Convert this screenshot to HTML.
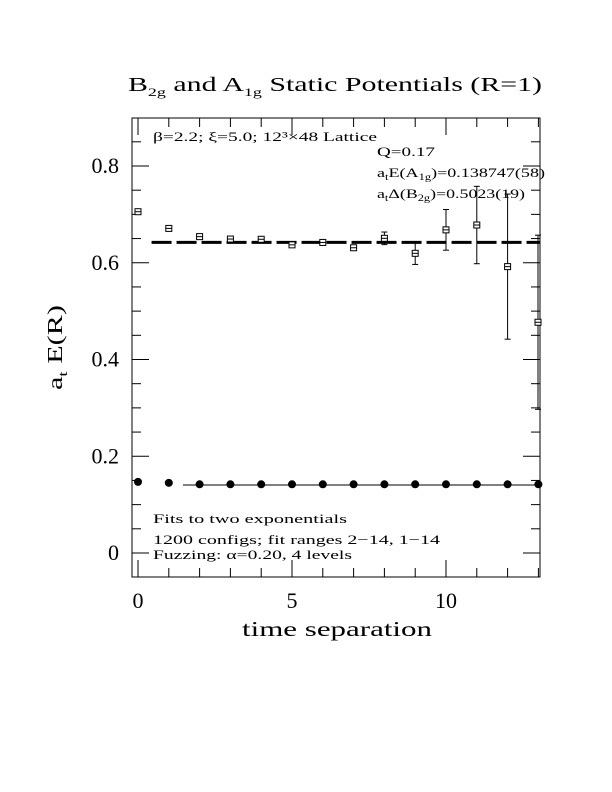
<!DOCTYPE html>
<html><head><meta charset="utf-8"><style>
body{margin:0;background:#fff;}
svg{display:block;font-family:"Liberation Serif",serif;}
</style></head><body>
<svg id="chart" width="612" height="792" viewBox="0 0 612 792">
<text x="335" y="91" font-size="20" text-anchor="middle" textLength="414" lengthAdjust="spacingAndGlyphs">B<tspan font-size="12" dy="5">2g</tspan><tspan dy="-5"> and A</tspan><tspan font-size="12" dy="5">1g</tspan><tspan dy="-5"> Static Potentials (R=1)</tspan></text>
<rect x="132" y="118" width="408" height="459" fill="none" stroke="#000" stroke-width="1"/>
<g id="ticks"></g>
<g id="marks"></g>
<text x="242" y="636" font-size="21" textLength="190" lengthAdjust="spacingAndGlyphs">time separation</text>
<text transform="translate(62,390) rotate(-90)" font-size="21" textLength="85" lengthAdjust="spacingAndGlyphs">a<tspan font-size="13" dy="5">t</tspan><tspan dy="-5"> E(R)</tspan></text>
<text x="153" y="141" font-size="13" textLength="224" lengthAdjust="spacingAndGlyphs">β=2.2; ξ=5.0; 12³×48 Lattice</text>
<text x="377" y="156" font-size="13" textLength="58" lengthAdjust="spacingAndGlyphs">Q=0.17</text>
<text x="377" y="177" font-size="13" textLength="168" lengthAdjust="spacingAndGlyphs">a<tspan font-size="9" dy="3">t</tspan><tspan dy="-3">E(A</tspan><tspan font-size="9" dy="3">1g</tspan><tspan dy="-3">)=0.138747(58)</tspan></text>
<text x="377" y="198" font-size="13" textLength="148" lengthAdjust="spacingAndGlyphs">a<tspan font-size="9" dy="3">t</tspan><tspan dy="-3">Δ(B</tspan><tspan font-size="9" dy="3">2g</tspan><tspan dy="-3">)=0.5023(19)</tspan></text>
<text x="153" y="523" font-size="13" textLength="194" lengthAdjust="spacingAndGlyphs">Fits to two exponentials</text>
<text x="153" y="544" font-size="13" textLength="287" lengthAdjust="spacingAndGlyphs">1200 configs; fit ranges 2−14, 1−14</text>
<text x="153" y="559" font-size="13" textLength="199" lengthAdjust="spacingAndGlyphs">Fuzzing: α=0.20, 4 levels</text>
</svg>
<script>
const tValues = [0,1,2,3,4,5,6,7,8,9,10,11,12,13];
const b2gValues = [0.7055,0.671,0.654,0.649,0.6485,0.637,0.642,0.631,0.6505,0.6195,0.668,0.678,0.592,0.477];
const b2gErrors = [0.003,0.003,0.003,0.003,0.003,0.003,0.003,0.005,0.013,0.023,0.042,0.08,0.15,0.18];
const a1gValues = [0.147,0.145,0.142,0.142,0.142,0.142,0.142,0.142,0.142,0.142,0.142,0.142,0.142,0.142];
const b2gFit = {value:0.642, from:0.44, to:13.05};
const a1gFit = {value:0.1405, from:1.46, to:13.05};
const xTicks = [0,5,10];
const yTicks = [0,0.2,0.4,0.6,0.8];
const yTickLabels = ["0","0.2","0.4","0.6","0.8"];

const NS="http://www.w3.org/2000/svg";
const L=132,R=540,T=118,B=577;
const X=v=>138+v*30.8;
const Y=v=>553-v*483.75;
function mk(tag,attrs,parent){const e=document.createElementNS(NS,tag);for(const k in attrs)e.setAttribute(k,attrs[k]);parent.appendChild(e);return e;}
const tk=document.getElementById('ticks');
const mg=document.getElementById('marks');
const svg=document.getElementById('chart');
for(let v=0;v<=13;v++){
  const maj=xTicks.includes(v);const len=maj?17:9;
  let e=mk('line',{x1:X(v),x2:X(v),y1:B,y2:B-len,stroke:'#000'},tk);
  
  
  e=mk('line',{x1:X(v),x2:X(v),y1:T,y2:T+len,stroke:'#000'},tk);
  
  
}
xTicks.forEach(v=>{const t=mk('text',{x:X(v),y:608,'font-size':22,'text-anchor':'middle'},svg);t.textContent=v;
  
  });
for(let i=-1;i<=17;i++){
  const v=i*0.05;const y=Y(v);if(y<T||y>B)continue;
  const maj=i%4===0;const len=maj?17:9;
  let e=mk('line',{x1:L,x2:L+len,y1:y,y2:y,stroke:'#000'},tk);
  
  
  e=mk('line',{x1:R,x2:R-len,y1:y,y2:y,stroke:'#000'},tk);
  
  
}
yTicks.forEach((v,i)=>{const t=mk('text',{x:119,y:Y(v)+7,'font-size':22,'text-anchor':'end'},svg);t.textContent=yTickLabels[i];
  
  });
let fl=mk('line',{x1:X(b2gFit.from),x2:X(b2gFit.to),y1:Y(b2gFit.value),y2:Y(b2gFit.value),stroke:'#000','stroke-width':3,'stroke-dasharray':'20 5'},mg);


fl=mk('line',{x1:X(a1gFit.from),x2:X(a1gFit.to),y1:Y(a1gFit.value),y2:Y(a1gFit.value),stroke:'#000','stroke-width':1},mg);


tValues.forEach((t,i)=>{
  const x=Math.min(X(t),R-2),y=Y(b2gValues[i]);
  const y1=Math.max(T,Y(b2gValues[i]+b2gErrors[i])),y2=Math.min(B,Y(b2gValues[i]-b2gErrors[i]));
  const g=mk('g',{},mg);
  
  
  mk('line',{x1:x,x2:x,y1:y1,y2:y2,stroke:'#000'},g);
  mk('line',{x1:x-3,x2:x+3,y1:y1,y2:y1,stroke:'#000'},g);
  mk('line',{x1:x-3,x2:x+3,y1:y2,y2:y2,stroke:'#000'},g);
  mk('rect',{x:x-3,y:y-3,width:6,height:6,fill:'#fff',stroke:'#000'},g);
  mk('line',{x1:x-3,x2:x+3,y1:y,y2:y,stroke:'#000'},g);
});
tValues.forEach((t,i)=>{
  const c=mk('circle',{cx:Math.min(X(t),R-1),cy:Y(a1gValues[i]),r:4,fill:'#000'},mg);
  
  
});
</script>
</body></html>
